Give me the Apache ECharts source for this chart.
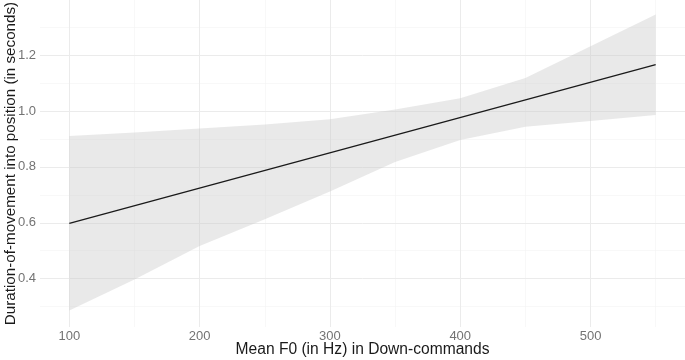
<!DOCTYPE html>
<html><head><meta charset="utf-8">
<script src="https://cdn.jsdelivr.net/npm/echarts@6/dist/echarts.min.js"></script>
<style>html,body{margin:0;padding:0;background:#fff}#c{width:685px;height:360px}</style>
</head><body><div id="c"></div>
<script>
const xTicks = [100, 200, 300, 400, 500];
const xMinor = [150, 250, 350, 450, 550];
const yTicks = [0.4, 0.6, 0.8, 1.0, 1.2];
const yMinor = [0.3, 0.5, 0.7, 0.9, 1.1, 1.3];
const bandX = [100, 150, 200, 250, 300, 350, 400, 450, 500, 550];
const bandUpper = [0.911, 0.923, 0.938, 0.952, 0.971, 1.006, 1.046, 1.118, 1.232, 1.346];
const bandLower = [0.286, 0.397, 0.517, 0.613, 0.712, 0.818, 0.896, 0.944, 0.964, 0.986];
const fitX = [100, 550];
const fitY = [0.598, 1.166];

const chart = echarts.init(document.getElementById('c'));
const majorStyle = {color: '#ebebeb', width: 1, type: 'solid'};
const minorStyle = {color: '#f4f4f4', width: 0.6, type: 'solid'};
const gridLines = []
  .concat(xMinor.map(v => ({xAxis: v, lineStyle: minorStyle})))
  .concat(yMinor.map(v => ({yAxis: v, lineStyle: minorStyle})))
  .concat(xTicks.map(v => ({xAxis: v, lineStyle: majorStyle})))
  .concat(yTicks.map(v => ({yAxis: v, lineStyle: majorStyle})));

chart.setOption({
  animation: false,
  grid: {left: 40, right: 0, top: 0, bottom: 33, containLabel: false, outerBoundsMode: 'none'},
  xAxis: {
    type: 'value', min: 77.5, max: 572.5,
    name: 'Mean F0 (in Hz) in Down-commands', nameLocation: 'middle', nameGap: 15, nameMoveOverlap: false,
    nameTextStyle: {fontFamily: 'Liberation Sans', fontSize: 15.6, color: '#1a1a1a'},
    axisLine: {show: false}, axisTick: {show: false}, splitLine: {show: false},
    axisLabel: {customValues: xTicks, fontFamily: 'Liberation Sans', fontSize: 13, color: '#737373', margin: 3}
  },
  yAxis: {
    type: 'value', min: 0.2269, max: 1.3976,
    name: 'Duration-of-movement into position (in seconds)', nameLocation: 'middle', nameGap: 22, nameMoveOverlap: false,
    nameTextStyle: {fontFamily: 'Liberation Sans', fontSize: 15.2, color: '#1a1a1a'},
    axisLine: {show: false}, axisTick: {show: false}, splitLine: {show: false},
    axisLabel: {customValues: yTicks, fontFamily: 'Liberation Sans', fontSize: 13, color: '#737373', margin: 4,
      formatter: v => v.toFixed(1)}
  },
  series: [
    {
      type: 'line', data: [], z: 0, silent: true,
      markLine: {z: 0, silent: true, symbol: ['none', 'none'], label: {show: false}, animation: false, data: gridLines}
    },
    {
      type: 'custom', z: 1, silent: true,
      data: bandX.map((x, i) => [x, bandLower[i], bandUpper[i]]),
      encode: {x: 0, y: [1, 2]},
      renderItem: function (params, api) {
        if (params.dataIndex !== 0) return null;
        const pts = [];
        for (let i = 0; i < bandX.length; i++) pts.push(api.coord([bandX[i], bandUpper[i]]));
        for (let i = bandX.length - 1; i >= 0; i--) pts.push(api.coord([bandX[i], bandLower[i]]));
        return {type: 'polygon', shape: {points: pts}, style: {fill: 'rgba(200,200,200,0.4)'}};
      }
    },
    {
      type: 'line', z: 2, silent: true, symbol: 'none',
      data: fitX.map((x, i) => [x, fitY[i]]),
      lineStyle: {color: '#1a1a1a', width: 1.3}
    }
  ]
});
</script>
</body></html>
